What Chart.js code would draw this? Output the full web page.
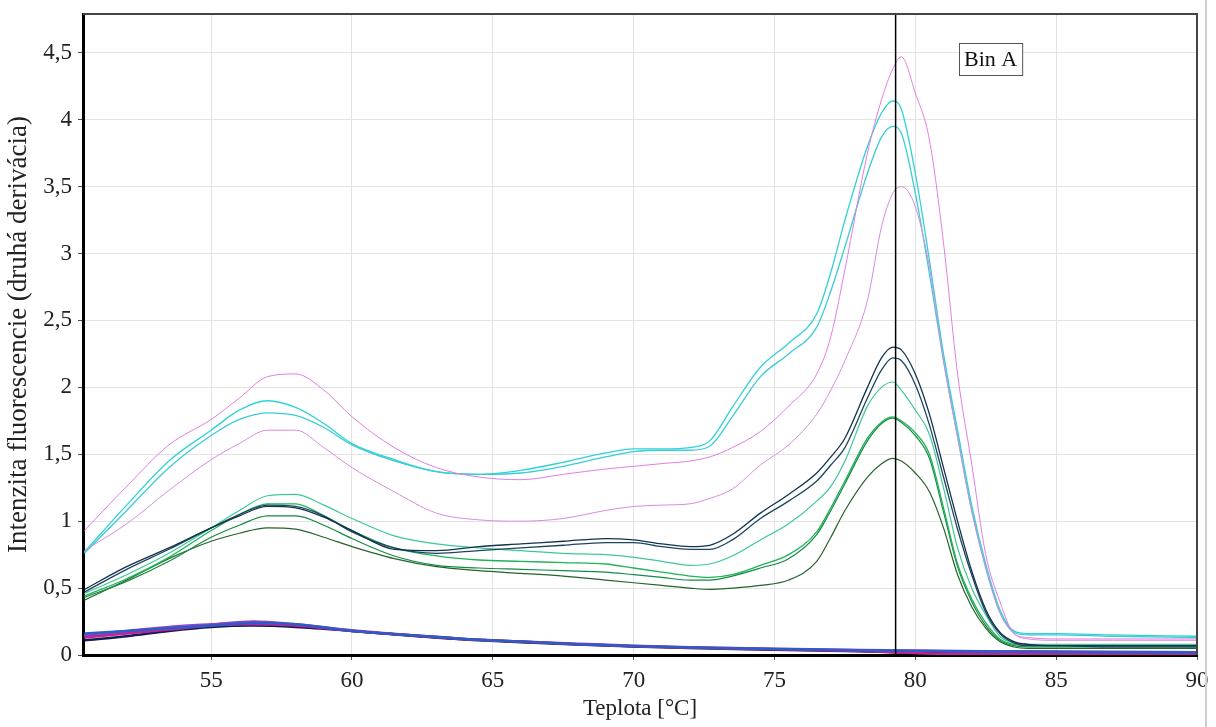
<!DOCTYPE html>
<html>
<head>
<meta charset="utf-8">
<script src="https://cdn.jsdelivr.net/npm/chart.js@4"></script>
<style>
  html, body { margin: 0; padding: 0; background: #fff; }
  #wrap { width: 1216px; height: 727px; position: relative; }
</style>
</head>
<body>
<div id="wrap"><canvas id="chart"></canvas></div>
<script>
// teplota [°C] pre horne krivky
const TEMP = [50.5, 52, 53.5, 55, 56, 57, 58, 59, 60, 61.5, 63, 64.5, 66, 67.5, 69, 70, 71, 72, 72.7, 73.5,
  74.5, 75.5, 76.5, 77, 77.5, 78.3, 78.8, 79.2, 79.5, 80, 80.5, 81, 81.5, 82, 82.5, 83, 83.5, 84, 85, 87, 90];

// ruzove krivky
const pink1 = [0.93, 1.26, 1.57, 1.76, 1.92, 2.08, 2.10, 1.98, 1.78, 1.55, 1.40, 1.33, 1.31, 1.35, 1.39, 1.41, 1.43, 1.45, 1.48, 1.55,
  1.67, 1.86, 2.10, 2.38, 2.88, 3.75, 4.15, 4.38, 4.47, 4.2, 3.85, 3.08, 2.1, 1.43, 0.75, 0.4, 0.16, 0.13, 0.12, 0.12, 0.12];
const pink2 = [0.78, 0.98, 1.23, 1.46, 1.58, 1.68, 1.68, 1.55, 1.40, 1.22, 1.06, 1.01, 1.00, 1.02, 1.08, 1.11, 1.12, 1.13, 1.17, 1.24,
  1.42, 1.57, 1.80, 1.98, 2.2, 2.65, 3.2, 3.45, 3.5, 3.35, 2.9, 2.2, 1.63, 1.08, 0.66, 0.32, 0.16, 0.12, 0.11, 0.11, 0.11];
// tyrkysove
const cyan1 = [0.77, 1.12, 1.45, 1.68, 1.83, 1.90, 1.85, 1.73, 1.58, 1.46, 1.37, 1.35, 1.38, 1.44, 1.51, 1.54, 1.54, 1.55, 1.60, 1.85,
  2.15, 2.33, 2.55, 2.86, 3.25, 3.8, 4.05, 4.14, 4.08, 3.6, 2.95, 2.25, 1.68, 1.12, 0.68, 0.34, 0.18, 0.16, 0.16, 0.15, 0.14];
const cyan2 = [0.76, 1.08, 1.40, 1.64, 1.76, 1.81, 1.79, 1.70, 1.57, 1.45, 1.37, 1.35, 1.36, 1.41, 1.48, 1.52, 1.53, 1.53, 1.56, 1.78,
  2.08, 2.25, 2.45, 2.72, 3.05, 3.6, 3.87, 3.95, 3.90, 3.45, 2.85, 2.2, 1.63, 1.08, 0.65, 0.32, 0.17, 0.15, 0.15, 0.14, 0.13];
// tmavomodre
const navy1 = [0.49, 0.66, 0.80, 0.95, 1.04, 1.11, 1.10, 1.03, 0.93, 0.79, 0.78, 0.81, 0.83, 0.85, 0.87, 0.86, 0.83, 0.81, 0.82, 0.90,
  1.06, 1.2, 1.36, 1.48, 1.62, 2.0, 2.22, 2.30, 2.28, 2.1, 1.8, 1.4, 1.0, 0.63, 0.34, 0.17, 0.1, 0.08, 0.07, 0.07, 0.07];
const navy2 = [0.47, 0.64, 0.79, 0.95, 1.05, 1.12, 1.11, 1.04, 0.92, 0.80, 0.76, 0.78, 0.80, 0.82, 0.84, 0.84, 0.81, 0.79, 0.79, 0.86,
  1.02, 1.15, 1.30, 1.42, 1.55, 1.92, 2.13, 2.22, 2.20, 2.02, 1.72, 1.33, 0.94, 0.6, 0.32, 0.16, 0.09, 0.07, 0.07, 0.06, 0.06];
// zelene
const green1 = [0.46, 0.60, 0.76, 0.95, 1.08, 1.19, 1.20, 1.12, 1.02, 0.89, 0.83, 0.80, 0.78, 0.76, 0.75, 0.73, 0.70, 0.67, 0.68, 0.74,
  0.86, 0.98, 1.15, 1.26, 1.45, 1.86, 2.0, 2.04, 1.98, 1.83, 1.65, 1.25, 0.80, 0.50, 0.30, 0.14, 0.09, 0.08, 0.08, 0.08, 0.08];
const green2 = [0.44, 0.57, 0.73, 0.93, 1.05, 1.13, 1.13, 1.04, 0.93, 0.80, 0.74, 0.71, 0.70, 0.69, 0.68, 0.65, 0.62, 0.59, 0.58, 0.60,
  0.67, 0.75, 0.92, 1.1, 1.3, 1.62, 1.74, 1.78, 1.75, 1.66, 1.5, 1.1, 0.68, 0.42, 0.24, 0.12, 0.08, 0.07, 0.07, 0.07, 0.07];
const green3 = [0.43, 0.55, 0.70, 0.88, 0.97, 1.04, 1.04, 0.97, 0.87, 0.74, 0.67, 0.65, 0.64, 0.63, 0.62, 0.60, 0.58, 0.56, 0.56, 0.59,
  0.65, 0.72, 0.90, 1.08, 1.28, 1.6, 1.73, 1.77, 1.74, 1.64, 1.47, 1.07, 0.66, 0.4, 0.22, 0.11, 0.07, 0.06, 0.06, 0.06, 0.06];
const green4 = [0.41, 0.56, 0.72, 0.85, 0.91, 0.95, 0.94, 0.88, 0.81, 0.72, 0.66, 0.63, 0.61, 0.59, 0.56, 0.54, 0.52, 0.50, 0.49, 0.50,
  0.52, 0.56, 0.70, 0.88, 1.08, 1.33, 1.43, 1.47, 1.45, 1.36, 1.22, 0.95, 0.6, 0.36, 0.2, 0.1, 0.06, 0.05, 0.05, 0.05, 0.05];

// spodne krivky (negativne vzorky)
const TEMP_LOW = [50.5, 52, 53.5, 55, 56.5, 58, 60, 62, 64, 66, 68, 70, 72, 75, 78, 81, 84, 87, 90];
const low1 = [0.16, 0.18, 0.20, 0.22, 0.24, 0.23, 0.18, 0.15, 0.12, 0.10, 0.08, 0.068, 0.056, 0.045, 0.035, 0.03, 0.025, 0.02, 0.018];
const low2 = [0.13, 0.16, 0.19, 0.22, 0.23, 0.22, 0.18, 0.15, 0.12, 0.10, 0.08, 0.066, 0.055, 0.043, 0.03, 0.01, 0.008, 0.006, 0.005];
const low3 = [0.15, 0.18, 0.21, 0.23, 0.25, 0.23, 0.185, 0.15, 0.12, 0.10, 0.085, 0.07, 0.058, 0.046, 0.038, 0.03, 0.028, 0.025, 0.02];
const low4 = [0.11, 0.14, 0.18, 0.21, 0.22, 0.21, 0.18, 0.145, 0.115, 0.095, 0.078, 0.064, 0.052, 0.04, 0.028, 0.012, 0.005, 0.004, 0.003];
const low5 = [0.15, 0.17, 0.20, 0.22, 0.23, 0.22, 0.18, 0.15, 0.12, 0.10, 0.082, 0.068, 0.056, 0.044, 0.034, 0.02, 0.016, 0.014, 0.012];
const low6 = [0.14, 0.17, 0.20, 0.22, 0.24, 0.22, 0.18, 0.145, 0.118, 0.098, 0.08, 0.066, 0.054, 0.042, 0.03, 0.008, 0.006, 0.004, 0.002];

const X_TICKS = [55, 60, 65, 70, 75, 80, 85, 90];
const Y_TICKS = [0, 0.5, 1, 1.5, 2, 2.5, 3, 3.5, 4, 4.5];
const X_MIN = 50.45, X_MAX = 90, Y_MAX = 4.79;
const BIN_A_T = 79.3;
const BIN_LABEL = 'Bin A';

const FONT = "'Liberation Serif', 'Times New Roman', serif";

function serie(xs, ys, color, width) {
  return {
    data: xs.map((x, i) => ({ x: x, y: ys[i] })),
    borderColor: color,
    borderWidth: width,
    pointRadius: 0,
    fill: false,
    cubicInterpolationMode: 'monotone'
  };
}

const datasets = [
  serie(TEMP, pink1, '#e27de2', 1),
  serie(TEMP, pink2, '#d98bdc', 1),
  serie(TEMP, cyan1, '#2fd2d6', 1.3),
  serie(TEMP, cyan2, '#3ccbd8', 1.3),
  serie(TEMP, navy1, '#12334d', 1.3),
  serie(TEMP, navy2, '#1d4560', 1.3),
  serie(TEMP, green1, '#3ec895', 1.2),
  serie(TEMP, green2, '#1fb356', 1.3),
  serie(TEMP, green3, '#148a45', 1.2),
  serie(TEMP, green4, '#25632a', 1.2),
  serie(TEMP_LOW, low1, '#2c5cc4', 2.5),
  serie(TEMP_LOW, low2, '#c0229a', 2.5),
  serie(TEMP_LOW, low3, '#8a46c8', 2.5),
  serie(TEMP_LOW, low4, '#141c52', 2.5),
  serie(TEMP_LOW, low5, '#3f9fe0', 2),
  serie(TEMP_LOW, low6, '#6e0834', 2)
];

// zvisla ciara, ramik grafu a popis "Bin A"
const binPlugin = {
  id: 'binA',
  afterDatasetsDraw(chart) {
    const { ctx, chartArea: a, scales } = chart;
    const px = scales.x.getPixelForValue(BIN_A_T);
    ctx.save();
    ctx.strokeStyle = '#000';
    ctx.lineWidth = 1.5;
    ctx.beginPath();
    ctx.moveTo(px, a.top);
    ctx.lineTo(px, a.bottom);
    ctx.stroke();

    // horny a pravy okraj
    ctx.strokeStyle = '#444';
    ctx.lineWidth = 2;
    ctx.beginPath();
    ctx.moveTo(a.left, a.top);
    ctx.lineTo(a.right, a.top);
    ctx.lineTo(a.right, a.bottom);
    ctx.stroke();

    // stitok
    const bx = scales.x.getPixelForValue(81.55);
    const by = a.top + 29;
    ctx.font = '22px ' + FONT;
    const w = ctx.measureText(BIN_LABEL).width + 10;
    ctx.fillStyle = '#fff';
    ctx.fillRect(bx, by, w, 32);
    ctx.strokeStyle = '#555';
    ctx.lineWidth = 1;
    ctx.strokeRect(bx + 0.5, by + 0.5, w, 32);
    ctx.fillStyle = '#111';
    ctx.textBaseline = 'middle';
    ctx.fillText(BIN_LABEL, bx + 5, by + 17);

    // siva deliaca ciara vpravo
    ctx.fillStyle = '#cfcfcf';
    ctx.fillRect(chart.width - 11, 0, 2, chart.height);
    ctx.restore();
  }
};

new Chart(document.getElementById('chart'), {
  type: 'line',
  data: { datasets: datasets },
  options: {
    responsive: true,
    maintainAspectRatio: false,
    animation: false,
    layout: { padding: { top: 14, right: 19, left: 0, bottom: 0 } },
    plugins: { legend: { display: false }, tooltip: { enabled: false } },
    scales: {
      x: {
        type: 'linear',
        min: X_MIN,
        max: X_MAX,
        afterFit: s => { s.height = 72; },
        afterBuildTicks: s => { s.ticks = X_TICKS.map(v => ({ value: v })); },
        grid: { color: '#e3e3e3', tickLength: 5, tickColor: '#555' },
        border: { color: '#000', width: 3 },
        ticks: { color: '#222', padding: 7, maxRotation: 0, font: { family: FONT, size: 23 } },
        title: { display: true, text: 'Teplota [°C]', color: '#222', padding: { top: 0, bottom: 4 }, font: { family: FONT, size: 23 } }
      },
      y: {
        min: 0,
        max: Y_MAX,
        afterFit: s => { s.width = 83; s.paddingTop = 0; s.paddingBottom = 0; },
        afterBuildTicks: s => { s.ticks = Y_TICKS.map(v => ({ value: v })); },
        grid: { color: '#e3e3e3', tickLength: 5, tickColor: '#555' },
        border: { color: '#000', width: 3 },
        ticks: {
          color: '#222', padding: 6, font: { family: FONT, size: 23 },
          callback: v => String(v).replace('.', ',')
        },
        title: { display: true, text: 'Intenzita fluorescencie (druhá derivácia)', color: '#222', padding: { top: 3, bottom: 0 }, font: { family: FONT, size: 27 } }
      }
    }
  },
  plugins: [binPlugin]
});
</script>
</body>
</html>
